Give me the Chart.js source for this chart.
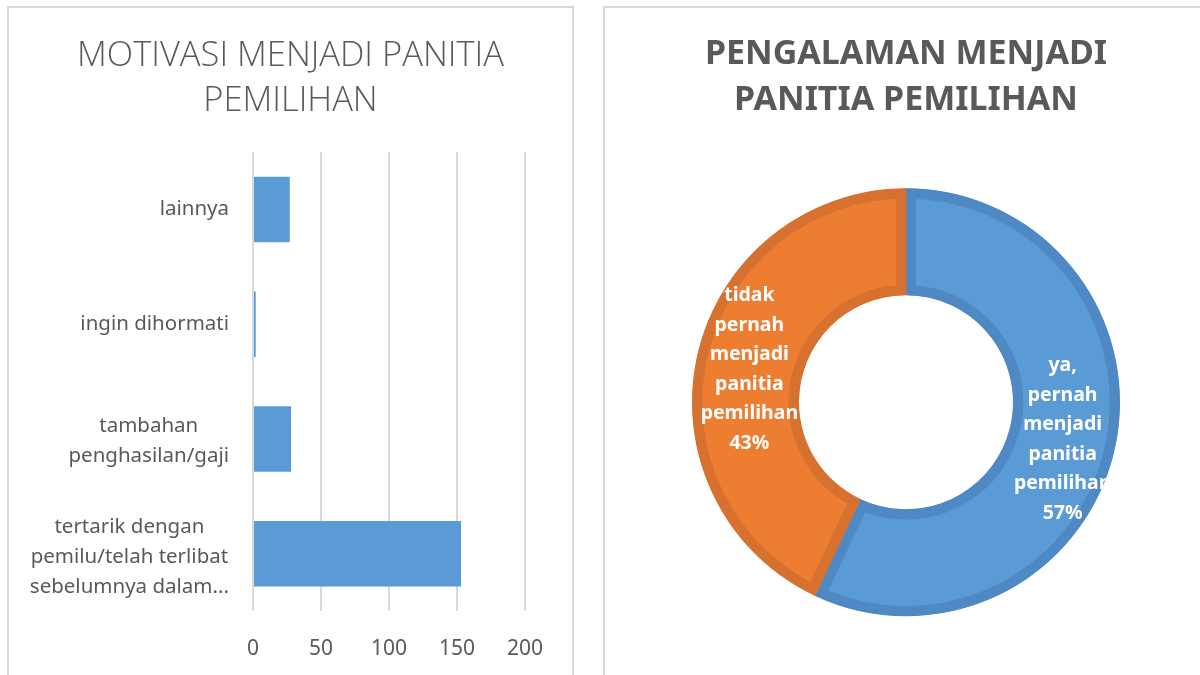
<!DOCTYPE html>
<html>
<head>
<meta charset="utf-8">
<script src="https://cdn.jsdelivr.net/npm/chart.js@4.4.1/dist/chart.umd.min.js"></script>
<style>
  body { margin: 0; background: #fff; width: 1200px; height: 675px; overflow: hidden; position: relative; }
  .panel { position: absolute; top: 6px; border: 2px solid #d9d9d9; border-bottom: none; background: #fff; height: 700px; }
  #leftPanel { left: 7px; width: 563px; }
  #rightPanel { left: 603px; width: 620px; }
  canvas { position: absolute; left: 0; top: 0; }
</style>
</head>
<body>
<div class="panel" id="leftPanel"><canvas id="barChart" width="563" height="667"></canvas></div>
<div class="panel" id="rightPanel"><canvas id="donutChart" width="602" height="667"></canvas></div>
<script>
// chart data
const categories = [
  ["lainnya"],
  ["ingin dihormati"],
  ["tambahan", "penghasilan/gaji"],
  ["tertarik dengan", "pemilu/telah terlibat", "sebelumnya dalam..."],
];
const motivasiValues = [27, 2, 28, 153];
const xTicks = [0, 50, 100, 150, 200];

const pengalamanLabels = [
  ["ya,", "pernah", "menjadi", "panitia", "pemilihan"],
  ["tidak", "pernah", "menjadi", "panitia", "pemilihan"],
];
const pengalamanValues = [57, 43];

const textGrey = "#595959";

// category labels: each block right-aligned, lines centred inside it
const yLabelPlugin = {
  id: "yLabels",
  afterDraw(chart) {
    const { ctx } = chart;
    const y = chart.scales.y;
    ctx.save();
    ctx.font = '20.5px "Noto Sans"';
    ctx.fillStyle = textGrey;
    ctx.textAlign = "center";
    ctx.textBaseline = "middle";
    categories.forEach((lines, i) => {
      const w = Math.max(...lines.map((l) => ctx.measureText(l).width));
      const cx = y.right - 24 - w / 2;
      const cy = y.getPixelForTick(i) + (lines.length - 1) * 2;
      lines.forEach((l, j) => {
        ctx.fillText(l, cx, cy + (j - (lines.length - 1) / 2) * 30);
      });
    });
    ctx.restore();
  },
};

// labels inside the doughnut slices
const arcLabelPlugin = {
  id: "arcLabels",
  afterDatasetsDraw(chart) {
    const { ctx } = chart;
    const meta = chart.getDatasetMeta(0);
    const total = pengalamanValues.reduce((a, b) => a + b, 0);
    ctx.save();
    ctx.font = 'bold 19.5px "Noto Sans"';
    ctx.fillStyle = "#ffffff";
    ctx.textAlign = "center";
    ctx.textBaseline = "middle";
    meta.data.forEach((arc, i) => {
      const { x, y } = arc.getCenterPoint();
      const pct = Math.round((pengalamanValues[i] / total) * 100) + "%";
      const lines = [...pengalamanLabels[i], pct];
      lines.forEach((l, j) => {
        ctx.fillText(l, x, y + 2 + (j - (lines.length - 1) / 2) * 29.5);
      });
    });
    ctx.restore();
  },
};

new Chart(document.getElementById("barChart"), {
  type: "bar",
  data: {
    labels: categories,
    datasets: [
      {
        data: motivasiValues,
        backgroundColor: "#5B9BD5",
        barPercentage: 0.571,
        categoryPercentage: 1,
      },
    ],
  },
  options: {
    indexAxis: "y",
    responsive: false,
    animation: false,
    // equal side padding keeps the title centred on the panel
    layout: { padding: { left: 47, right: 47, top: 0, bottom: 9 } },
    scales: {
      x: {
        min: xTicks[0],
        max: xTicks[xTicks.length - 1],
        afterBuildTicks: (scale) => {
          scale.ticks = xTicks.map((v) => ({ value: v }));
        },
        afterFit: (scale) => {
          scale.height = 55;
        },
        grid: { color: "#d9d9d9", lineWidth: 2, drawTicks: false },
        border: { display: false },
        ticks: {
          color: textGrey,
          font: { family: "Noto Sans", size: 21 },
          padding: 25,
        },
      },
      y: {
        grid: { display: false },
        border: { display: false },
        ticks: { display: false },
        afterFit: (scale) => {
          scale.width = 197;
        },
      },
    },
    plugins: {
      legend: { display: false },
      tooltip: { enabled: false },
      title: {
        display: true,
        text: ["MOTIVASI MENJADI PANITIA", "PEMILIHAN"],
        color: textGrey,
        font: { family: "Open Sans", size: 34.5, weight: 300, lineHeight: 1.32 },
        padding: { top: 25, bottom: 28 },
      },
    },
  },
  plugins: [yLabelPlugin],
});

new Chart(document.getElementById("donutChart"), {
  type: "doughnut",
  data: {
    labels: pengalamanLabels,
    datasets: [
      {
        data: pengalamanValues,
        backgroundColor: ["#5B9BD5", "#ED7D31"],
        borderColor: ["#4F89C3", "#D6712F"],
        borderWidth: 10,
        borderAlign: "inner",
      },
    ],
  },
  options: {
    responsive: false,
    animation: false,
    radius: 214,
    cutout: "50%",
    layout: { padding: { top: 0, bottom: 28 } },
    plugins: {
      legend: { display: false },
      tooltip: { enabled: false },
      title: {
        display: true,
        text: ["PENGALAMAN MENJADI", "PANITIA PEMILIHAN"],
        color: textGrey,
        font: { family: "Noto Sans", size: 34, weight: "bold", lineHeight: 1.36 },
        padding: { top: 23, bottom: 34 },
      },
    },
  },
  plugins: [arcLabelPlugin],
});
</script>
</body>
</html>
